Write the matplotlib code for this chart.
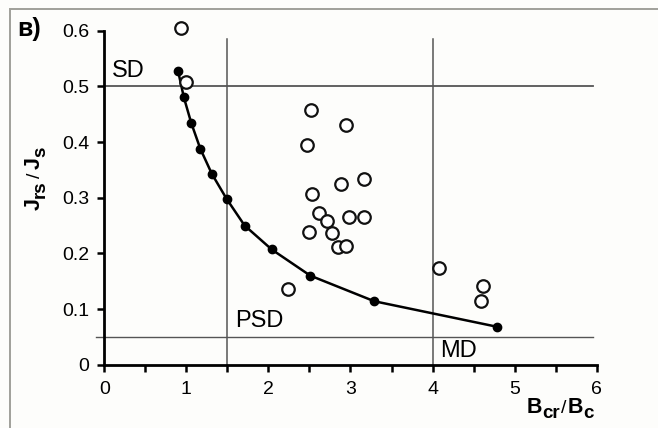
import matplotlib
matplotlib.use("Agg")
import matplotlib.pyplot as plt
from matplotlib.patches import Rectangle
from matplotlib.transforms import IdentityTransform

plt.rcParams['font.family'] = ['Liberation Sans', 'DejaVu Sans']

# Day-plot model curve (filled points)
curve_x = [0.90, 0.97, 1.06, 1.17, 1.31, 1.49, 1.71, 2.04, 2.51, 3.29, 4.79]
curve_y = [0.527, 0.480, 0.434, 0.388, 0.343, 0.298, 0.250, 0.207, 0.160, 0.114, 0.068]

# Measured samples (open circles)
samp_x = [0.94, 1.00, 2.52, 2.47, 2.94, 2.53, 2.88, 3.17, 2.62, 2.71,
          2.98, 3.17, 2.50, 2.77, 2.85, 2.95, 2.24, 4.08, 4.62, 4.59]
samp_y = [0.604, 0.508, 0.457, 0.395, 0.430, 0.307, 0.325, 0.333, 0.272, 0.259,
          0.265, 0.265, 0.239, 0.236, 0.211, 0.214, 0.136, 0.174, 0.141, 0.114]

# Domain-state boundaries
mrs_bounds = [0.5, 0.05]
hcr_bounds = [1.5, 4.0]
regions = ["SD", "PSD", "MD"]
x_ticks = [0, 1, 2, 3, 4, 5, 6]
y_ticks = [0, 0.1, 0.2, 0.3, 0.4, 0.5, 0.6]
y_ticklabels = ["0", "0.1", "0.2", "0.3", "0.4", "0.5", "0.6"]

W, H = 658, 428
fig = plt.figure(figsize=(W / 100, H / 100), dpi=100, facecolor='#fdfdfb')
ax = fig.add_axes([0.1585, 0.1479, 0.7483, 0.7804])
ax.set_facecolor('none')
ax.set_xlim(0, 6)
ax.set_ylim(0, 0.6)

# outer panel frame
fig.patches.append(Rectangle((10 / W, -0.1), 1.2, (H - 9) / H + 0.1,
                             transform=fig.transFigure, fill=False,
                             edgecolor='#a0a09a', linewidth=1.4))

grid_c = '#555555'
ax.plot([0, 5.95], [mrs_bounds[0]] * 2, color=grid_c, lw=1.3, zorder=1)
ax.plot([-0.1, 5.95], [mrs_bounds[1]] * 2, color=grid_c, lw=1.0, zorder=1, clip_on=False)
for xb in hcr_bounds:
    ax.plot([xb, xb], [0, 0.585], color=grid_c, lw=1.1, zorder=1)

ax.plot(curve_x, curve_y, color='black', lw=1.8, marker='o', ms=6,
        mfc='black', mec='black', zorder=3, clip_on=False)
ax.plot(samp_x, samp_y, linestyle='none', marker='o', ms=9, mfc='white',
        mec='#111111', mew=1.6, zorder=4, clip_on=False)

ax.text(0.09, 0.527, regions[0], fontsize=17, va='center', ha='left')
ax.text(1.59, 0.079, regions[1], fontsize=17, va='center', ha='left')
ax.text(4.09, 0.025, regions[2], fontsize=17, va='center', ha='left')

for side in ['top', 'right']:
    ax.spines[side].set_visible(False)
for side in ['left', 'bottom']:
    ax.spines[side].set_linewidth(2.0)

ax.set_xticks(x_ticks)
ax.set_xticks([0.5, 1.5, 2.5, 3.5, 4.5, 5.5], minor=True)
ax.set_yticks(y_ticks)
ax.set_yticklabels(y_ticklabels)
ax.tick_params(axis='both', which='both', direction='out', width=1.8, length=5,
               labelsize=14, color='black')
ax.tick_params(axis='y', pad=6)
ax.tick_params(axis='x', pad=7)


def chained_label(x0, y0, pieces, vertical=False):
    """Write text pieces one after another (pixel coords, baseline-anchored)."""
    renderer = fig.canvas.get_renderer()
    pos = x0 if not vertical else y0
    for txt, size, weight, drop, gap in pieces:
        if vertical:
            t = fig.text(x0 + drop, pos, txt, fontsize=size, fontweight=weight,
                         rotation=90, rotation_mode='anchor', ha='left',
                         va='baseline', transform=IdentityTransform())
            ext = t.get_window_extent(renderer)
            pos = ext.y1 + gap
        else:
            t = fig.text(pos, y0 - drop, txt, fontsize=size, fontweight=weight,
                         ha='left', va='baseline', transform=IdentityTransform())
            ext = t.get_window_extent(renderer)
            pos = ext.x1 + gap


# x axis label: B_cr / B_c
chained_label(527, H - 413, [
    ('B', 15.5, 'bold', 0, 0),
    ('cr', 13.5, 'bold', 5, 1),
    ('/', 14, 'normal', 0, 1),
    ('B', 15.5, 'bold', 0, 0),
    ('c', 13.5, 'bold', 5, 0),
])

# y axis label: J_rs / J_s
chained_label(40, H - 210, [
    ('J', 15.5, 'bold', 0, 0),
    ('rs', 13.5, 'bold', 5, 3),
    ('/', 14, 'normal', 0, 3),
    ('J', 15.5, 'bold', 0, 0),
    ('s', 13.5, 'bold', 5, 0),
], vertical=True)

fig.text(17 / W, 1 - 29 / H, 'в)', fontsize=18, fontweight='bold',
         ha='left', va='center')

fig.savefig('out.png', dpi=100, facecolor=fig.get_facecolor())
